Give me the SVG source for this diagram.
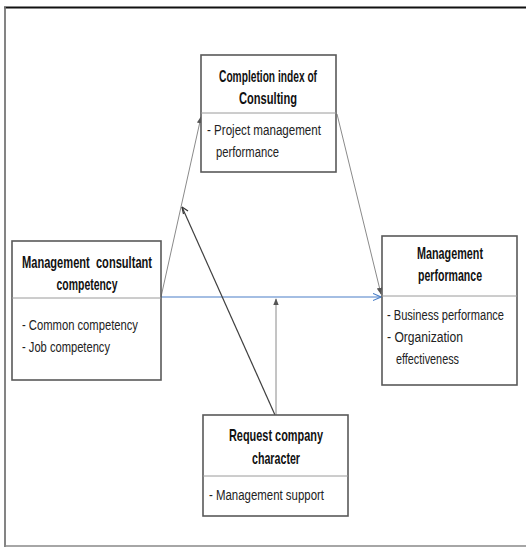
<svg xmlns="http://www.w3.org/2000/svg" width="526" height="547" viewBox="0 0 526 547">
<defs>
<style>
.box{fill:#fff;stroke:#595959;stroke-width:1.6}
.div{stroke:#9a9a9a;stroke-width:1}
.t{font-family:"Liberation Sans",Arial,sans-serif;font-size:16px;font-weight:bold;fill:#111;text-anchor:middle;white-space:pre}
.b{font-family:"Liberation Sans",Arial,sans-serif;font-size:15px;fill:#222}
.g{stroke:#8a8a8a;stroke-width:1;fill:none}
.k{stroke:#404040;stroke-width:1.2;fill:none}
.bl{stroke:#4a7fc8;stroke-width:1.2;fill:none}
</style>
<marker id="ag" viewBox="0 0 10 10" refX="9" refY="5" markerWidth="7" markerHeight="7" orient="auto" markerUnits="userSpaceOnUse"><path d="M0,1 L10,5 L0,9 Z" fill="#555"/></marker>
<marker id="ab" viewBox="0 0 10 10" refX="9" refY="5" markerWidth="9" markerHeight="9" orient="auto" markerUnits="userSpaceOnUse"><path d="M0,1 L9,5 L0,9" fill="none" stroke="#4a7fc8" stroke-width="1.2"/></marker>
</defs>
<rect width="526" height="547" fill="#fff"/>
<g id="frame">
<line x1="4" y1="7.5" x2="526" y2="7.5" stroke="#111" stroke-width="2"/>
<line x1="5" y1="7" x2="5" y2="547" stroke="#777" stroke-width="1.8"/>
<line x1="5" y1="546" x2="526" y2="546" stroke="#888" stroke-width="1.6"/>
</g>
<g id="connectors">
<line class="g" x1="161" y1="297" x2="201" y2="117" marker-end="url(#ag)"/>
<line class="g" x1="337" y1="114" x2="381" y2="294" marker-end="url(#ag)"/>
<line class="bl" x1="161" y1="297" x2="381" y2="297" marker-end="url(#ab)"/>
<line class="k" x1="275" y1="415" x2="182" y2="207"/>
<path d="M182,207 L183.5,214 M182,207 L188,211" stroke="#333" stroke-width="1.2" fill="none"/>
<line class="g" x1="276" y1="415" x2="276" y2="299" marker-end="url(#ag)"/>
</g>
<g id="node-completion">
<rect class="box" x="201" y="55" width="135" height="117"/>
<line class="div" x1="201" y1="113" x2="336" y2="113"/>
<text class="t" transform="translate(268,82) scale(0.72,1)" textLength="136.1" lengthAdjust="spacingAndGlyphs">Completion index of</text>
<text class="t" transform="translate(268,104) scale(0.72,1)" textLength="80.6" lengthAdjust="spacingAndGlyphs">Consulting</text>
<text class="b" transform="translate(207,135) scale(0.72,1)" textLength="158.3" lengthAdjust="spacingAndGlyphs">- Project management</text>
<text class="b" transform="translate(216,157) scale(0.72,1)" textLength="87.5" lengthAdjust="spacingAndGlyphs">performance</text>
</g>
<g id="node-consultant">
<rect class="box" x="12" y="241" width="149" height="139"/>
<line class="div" x1="12" y1="298" x2="161" y2="298"/>
<text class="t" transform="translate(87,268) scale(0.72,1)" textLength="180.6" lengthAdjust="spacingAndGlyphs" xml:space="preserve">Management  consultant</text>
<text class="t" transform="translate(87,290) scale(0.72,1)" textLength="84.7" lengthAdjust="spacingAndGlyphs">competency</text>
<text class="b" transform="translate(22,330) scale(0.72,1)" textLength="161.1" lengthAdjust="spacingAndGlyphs">- Common competency</text>
<text class="b" transform="translate(22,352) scale(0.72,1)" textLength="122.2" lengthAdjust="spacingAndGlyphs">- Job competency</text>
</g>
<g id="node-performance">
<rect class="box" x="382" y="236" width="135" height="149"/>
<line class="div" x1="382" y1="296" x2="517" y2="296"/>
<text class="t" transform="translate(450,259) scale(0.72,1)" textLength="91.7" lengthAdjust="spacingAndGlyphs">Management</text>
<text class="t" transform="translate(450,281) scale(0.72,1)" textLength="88.9" lengthAdjust="spacingAndGlyphs">performance</text>
<text class="b" transform="translate(387,320) scale(0.72,1)" textLength="162.5" lengthAdjust="spacingAndGlyphs">- Business performance</text>
<text class="b" transform="translate(387,342) scale(0.72,1)" textLength="105.6" lengthAdjust="spacingAndGlyphs">- Organization</text>
<text class="b" transform="translate(396,364) scale(0.72,1)" textLength="87.5" lengthAdjust="spacingAndGlyphs">effectiveness</text>
</g>
<g id="node-request">
<rect class="box" x="203" y="415" width="145" height="101"/>
<line class="div" x1="203" y1="476" x2="348" y2="476"/>
<text class="t" transform="translate(276,441) scale(0.72,1)" textLength="130.6" lengthAdjust="spacingAndGlyphs">Request company</text>
<text class="t" transform="translate(276,464) scale(0.72,1)" textLength="66.7" lengthAdjust="spacingAndGlyphs">character</text>
<text class="b" transform="translate(209,500) scale(0.72,1)" textLength="159.7" lengthAdjust="spacingAndGlyphs">- Management support</text>
</g>
</svg>
